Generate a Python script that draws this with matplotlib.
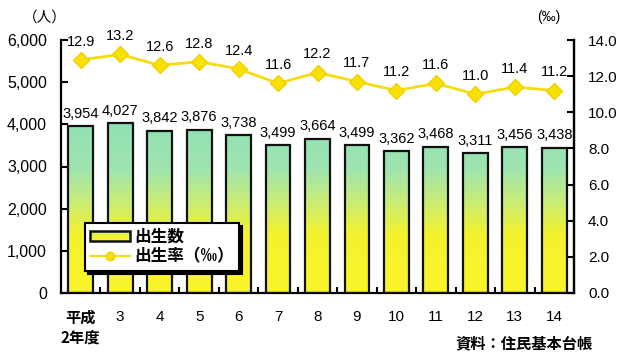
import numpy as np
import matplotlib
matplotlib.use('Agg')
import matplotlib.pyplot as plt
from matplotlib.colors import LinearSegmentedColormap
from matplotlib.legend_handler import HandlerPatch
from matplotlib.patches import Rectangle

plt.rcParams['font.family'] = ['Liberation Sans', 'Noto Sans CJK JP', 'DejaVu Sans']
JP = ['Noto Sans CJK JP', 'DejaVu Sans']

# 年度・出生数・出生率
years = ['平成\n2年度', '3', '4', '5', '6', '7', '8', '9', '10', '11', '12', '13', '14']
births = [3954, 4027, 3842, 3876, 3738, 3499, 3664, 3499, 3362, 3468, 3311, 3456, 3438]
birth_rate = [12.9, 13.2, 12.6, 12.8, 12.4, 11.6, 12.2, 11.7, 11.2, 11.6, 11.0, 11.4, 11.2]

# 棒のグラデーション（下:黄 → 上:緑）
grad = LinearSegmentedColormap.from_list(
    'yg', [(0.0, '#fbf52a'), (0.33, '#f4f22e'), (0.52, '#c8ec78'),
           (0.7, '#9fe5b0'), (1.0, '#8fe0b4')])

fig = plt.figure(figsize=(6.22, 3.54), dpi=100)
ax = fig.add_axes([61 / 622, 1 - 293 / 354, (574 - 61) / 622, (293 - 40) / 354])
ax2 = ax.twinx()

x = np.arange(len(years))
w = 0.63
bars = ax.bar(x, births, width=w, facecolor='none', edgecolor='#111111', linewidth=1.6, zorder=3)
img = np.linspace(0, 1, 256).reshape(-1, 1)
for b in bars:
    x0 = b.get_x()
    im = ax.imshow(img, cmap=grad, origin='lower', aspect='auto',
                   extent=[x0, x0 + w, 0, 4200], zorder=2)
    im.set_clip_path(b)

for xi, v in zip(x, births):
    ax.annotate(f'{v:,}', (xi, v), xytext=(0, 4), textcoords='offset points',
                ha='center', va='bottom', fontsize=10.5)

ax.set_xlim(-0.5, len(years) - 0.5)
ax.set_ylim(0, 6000)
ax.set_yticks(range(0, 6001, 1000))
ax.set_yticklabels([f'{v:,}' for v in range(0, 6001, 1000)], fontsize=11.5)
ax.set_xticks(x)
ax.set_xticklabels(years, fontsize=11)
lbl0 = ax.get_xticklabels()[0]
lbl0.set_ha('center')
lbl0.set_linespacing(1.3)
lbl0.set_fontweight('bold')
lbl0.set_family(JP)
ax.tick_params(axis='x', length=0, pad=12)
ax.set_xticks(np.arange(0.5, len(years) - 1, 1), minor=True)
ax.tick_params(axis='x', which='minor', direction='in', length=4, width=1.5)
ax.tick_params(axis='y', direction='in', length=5, width=1.5, pad=10)

ax2.plot(x, birth_rate, color='#f5dc10', linewidth=2, marker='D', markersize=8,
         markerfacecolor='#f8e000', markeredgecolor='#f0d000', zorder=4)
for xi, v in zip(x, birth_rate):
    ax2.annotate(f'{v:.1f}', (xi, v), xytext=(0, 8), textcoords='offset points',
                 ha='center', va='bottom', fontsize=10.5)
ax2.set_ylim(0, 14)
ax2.set_yticks(np.arange(0, 14.1, 2))
ax2.set_yticklabels([f'{v:.1f}' for v in np.arange(0, 14.1, 2)], fontsize=11)
ax2.tick_params(axis='y', direction='in', length=5, width=1.5, pad=10)

for a in (ax, ax2):
    a.spines['top'].set_visible(False)
    for s in ('left', 'right', 'bottom'):
        a.spines[s].set_linewidth(1.6)
ax2.spines['left'].set_visible(False)
ax2.spines['bottom'].set_visible(False)
ax.set_zorder(ax2.get_zorder() + 1)
ax.patch.set_visible(False)


class GradHandler(HandlerPatch):
    def create_artists(self, legend, orig_handle, xdescent, ydescent,
                       width, height, fontsize, trans):
        arts = []
        cols = ['#fbf52a', '#f4f22e', '#e2f04c', '#c8ec78']
        n = len(cols)
        for i, c in enumerate(cols):
            arts.append(Rectangle((-xdescent, -ydescent + height * i / n), width,
                                  height / n, facecolor=c, edgecolor='none', transform=trans))
        arts.append(Rectangle((-xdescent, -ydescent), width, height, facecolor='none',
                              edgecolor='#111111', linewidth=1.8, transform=trans))
        return arts


bar_handle = Rectangle((0, 0), 1, 1)
line_handle, = ax.plot([], [], color='#f5dc10', linewidth=1.5, marker='o',
                       markersize=6, markerfacecolor='#f8e000', markeredgecolor='#f0d000')
leg = ax.legend([bar_handle, line_handle], ['出生数', '出生率（‰）'],
                handler_map={Rectangle: GradHandler()},
                loc='lower left', bbox_to_anchor=(0.03, 0.055),
                prop={'family': JP, 'size': 12, 'weight': 'bold'},
                frameon=True, fancybox=False, edgecolor='black', framealpha=1,
                shadow={'color': 'black', 'alpha': 1}, borderpad=0.3,
                labelspacing=0.12, handlelength=2.4, handleheight=0.6, handletextpad=0.3)
leg.get_frame().set_linewidth(1.5)
leg.set_zorder(10)

fig.text(45 / 622, 1 - 18 / 354, '（人）', ha='center', va='center', fontsize=10.5, family=JP)
fig.text(549 / 622, 1 - 17 / 354, '(‰)', ha='center', va='center', fontsize=10)
fig.text(593 / 622, 1 - 343 / 354, '資料：住民基本台帳', ha='right', va='center',
         fontsize=11, fontweight='bold', family=JP)

fig.savefig('out.png', dpi=100, facecolor='white')
